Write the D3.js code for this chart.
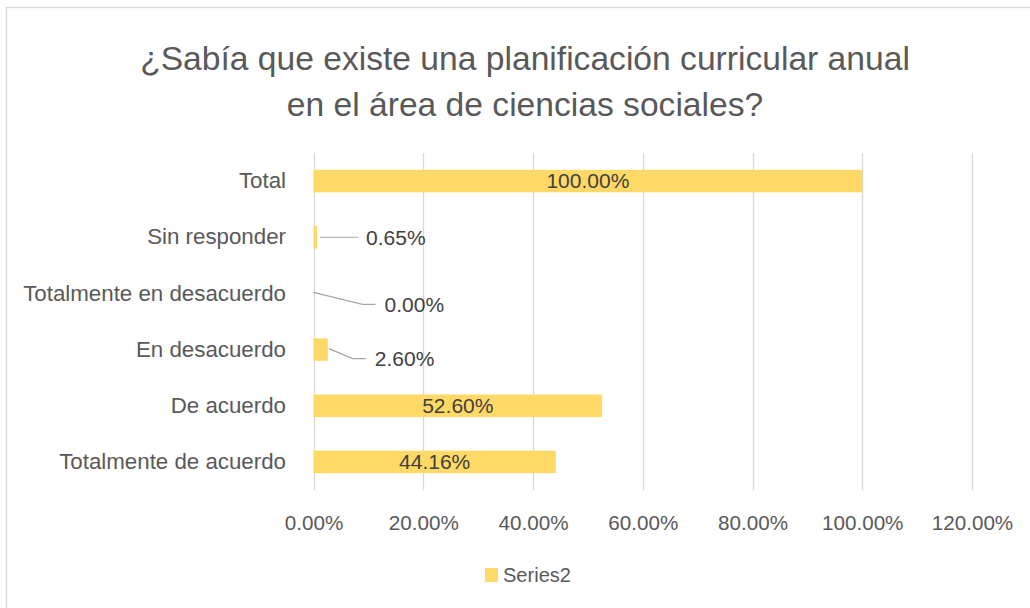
<!DOCTYPE html>
<html><head><meta charset="utf-8">
<script src="https://cdn.jsdelivr.net/npm/d3@7"></script>
<style>body{margin:0;background:#fff}svg{display:block}text{font-family:"Liberation Sans",Arial,sans-serif}</style>
</head><body>
<svg id="chart" width="1030" height="608"></svg>
<script>
const categories = ["Total","Sin responder","Totalmente en desacuerdo","En desacuerdo","De acuerdo","Totalmente de acuerdo"];
const values = [1.0, 0.0065, 0.0, 0.026, 0.526, 0.4416];
const tickValues = [0, 0.2, 0.4, 0.6, 0.8, 1.0, 1.2];
const seriesName = "Series2";
const titleLines = ["¿Sabía que existe una planificación curricular anual","en el área de ciencias sociales?"];
// label placement: "in" = centred inside the bar, otherwise outside with leader line offsets
const labelPlace = ["in", [48, 0], [71, 11], [46, 9], "in", "in"];

const svg = d3.select("#chart");
const textCol = "#595959", labCol = "#404040", barCol = "#FFD966", gridCol = "#D9D9D9";

// scale a group's font so its widest text has the given width
function fit(sel, target) {
  let w = 0;
  sel.each(function(){ w = Math.max(w, this.getComputedTextLength()); });
  const fs = parseFloat(sel.attr("font-size"));
  sel.attr("font-size", (fs*target/w).toFixed(2));
}

svg.append("rect").attr("x",6.5).attr("y",7.5).attr("width",1040).attr("height",620)
  .attr("fill","#fff").attr("stroke","#D9D9D9").attr("stroke-width",1.3);

const title = svg.selectAll("text.title").data(titleLines).join("text").attr("class","title")
  .attr("x",525).attr("y",(d,i)=>70+i*46)
  .attr("text-anchor","middle").attr("font-size",28).attr("fill",textCol).text(d=>d);
fit(title, 770);

const x = d3.scaleLinear().domain([0,1.2]).range([313.5,972]);
const y = d3.scaleBand().domain(categories).range([153,490]).paddingInner(0.6).paddingOuter(0.3);

svg.append("g").selectAll("line").data(tickValues).join("line")
  .attr("x1",d=>Math.round(x(d))+0.5).attr("x2",d=>Math.round(x(d))+0.5)
  .attr("y1",153).attr("y2",490).attr("stroke",gridCol).attr("stroke-width",1.3);

const xAxis = svg.append("g").attr("transform","translate(0,490)")
  .call(d3.axisBottom(x).tickValues(tickValues).tickFormat(d3.format(".2%")).tickSize(0));
xAxis.select(".domain").remove();
const xt = xAxis.selectAll("text").attr("y",33).attr("dy","0.35em").attr("font-size",17)
  .attr("fill",textCol).style("font-family","Liberation Sans, Arial, sans-serif");
fit(xt, 81.5);

const yAxis = svg.append("g").attr("transform","translate(286,0)")
  .call(d3.axisLeft(y).tickSize(0).tickPadding(0));
yAxis.select(".domain").remove();
const yt = yAxis.selectAll("text").attr("font-size",17).attr("fill",textCol)
  .style("font-family","Liberation Sans, Arial, sans-serif");
fit(yt, 263);

const data = categories.map((c,i)=>({c, v:values[i], p:labelPlace[i]}));

svg.append("g").selectAll("rect").data(data).join("rect")
  .attr("x",x(0)).attr("y",d=>y(d.c))
  .attr("width",d=>x(d.v)-x(0)).attr("height",y.bandwidth()).attr("fill",barCol);

const fmt = d3.format(".2%");
const lab = svg.append("g");
data.forEach(d=>{
  const cy = y(d.c)+y.bandwidth()/2;
  if (d.p === "in") {
    lab.append("text").attr("x",(x(0)+x(d.v))/2).attr("y",cy).attr("dy","0.35em")
      .attr("text-anchor","middle").attr("font-size",17).attr("fill",labCol).text(fmt(d.v));
  } else {
    const x0 = x(d.v)+ (d.v>0?1:0), [dx,dy] = d.p;
    const tx = x0+dx, ty = cy+dy;
    const pts = dy===0 ? [[x0+2,cy],[tx-8,ty]] : [[x0,cy-1],[tx-22,ty],[tx-9,ty]];
    lab.append("path").attr("d",d3.line()(pts)).attr("fill","none")
      .attr("stroke","#A6A6A6").attr("stroke-width",1.2);
    lab.append("text").attr("x",tx).attr("y",ty).attr("dy","0.35em")
      .attr("font-size",17).attr("fill",labCol).text(fmt(d.v));
  }
});
fit(lab.selectAll("text"), 83);

const leg = svg.append("g").attr("transform","translate(485,568)");
leg.append("rect").attr("width",13).attr("height",14).attr("fill",barCol);
const lt = leg.append("text").attr("x",18).attr("y",7).attr("dy","0.35em").attr("font-size",17)
  .attr("fill",textCol).text(seriesName);
fit(lt, 68);
</script>
</body></html>
